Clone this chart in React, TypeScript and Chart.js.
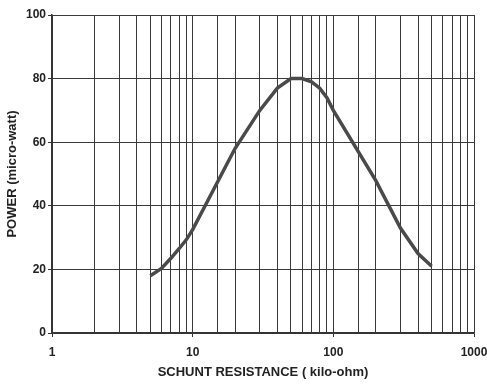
import React, { useEffect, useRef } from "react";
import { Chart, registerables } from "chart.js";

Chart.register(...registerables);

const resistanceKOhm = [5, 6, 7, 8, 9, 10, 20, 30, 40, 50, 60, 70, 80, 90, 100, 200, 300, 400, 500];
const powerMicroWatt = [18, 20.3, 23.5, 26.5, 29.3, 32.5, 58, 70, 77, 80, 80, 79, 77, 74, 70, 48, 33, 25, 21];
const majorXTicks = [1, 10, 100, 1000];
const yTickValues = [0, 20, 40, 60, 80, 100];

export default function App() {
  const canvasRef = useRef<HTMLCanvasElement | null>(null);

  useEffect(() => {
    const canvas = canvasRef.current;
    if (!canvas) return;
    const family = "'Liberation Sans', Arial, sans-serif";
    const tickFont = { family, size: 12, weight: "bold" as const };
    const titleFont = { family, size: 13, weight: "bold" as const };
    const chart = new Chart(canvas, {
      type: "line",
      data: {
        datasets: [
          {
            data: resistanceKOhm.map((x, i) => ({ x, y: powerMicroWatt[i] })),
            borderColor: "#4a4a4a",
            borderWidth: 3.5,
            pointRadius: 0,
            tension: 0,
            fill: false,
          },
        ],
      },
      options: {
        animation: false,
        responsive: false,
        maintainAspectRatio: false,
        layout: { padding: { top: 15, right: 0, bottom: 0, left: 0 } },
        plugins: { legend: { display: false }, tooltip: { enabled: false } },
        scales: {
          x: {
            type: "logarithmic",
            min: 1,
            max: 1000,
            afterFit: (s: any) => {
              s.height = 57;
              s.paddingLeft = 0;
              s.paddingRight = 13;
            },
            grid: {
              color: "#3a3a3a",
              lineWidth: 1,
              drawTicks: true,
              tickLength: 4,
              tickColor: (ctx: any) =>
                ctx.tick && majorXTicks.includes(ctx.tick.value) ? "#333" : "rgba(0,0,0,0)",
            },
            border: { color: "#333", width: 1.5 },
            ticks: {
              autoSkip: false,
              maxRotation: 0,
              padding: 8,
              color: "#222",
              font: tickFont,
              callback: (v: any) => (majorXTicks.includes(Number(v)) ? String(v) : ""),
            },
            title: {
              display: true,
              text: "SCHUNT RESISTANCE ( kilo-ohm)",
              color: "#222",
              font: titleFont,
              padding: { top: 4, bottom: 10 },
            },
          },
          y: {
            min: 0,
            max: 100,
            afterFit: (s: any) => {
              s.width = 52;
            },
            afterBuildTicks: (s: any) => {
              s.ticks = yTickValues.map((value) => ({ value }));
            },
            grid: { color: "#3a3a3a", lineWidth: 1, tickLength: 4, tickColor: "#333" },
            border: { color: "#333", width: 1.5 },
            ticks: { padding: 2, color: "#222", font: tickFont },
            title: {
              display: true,
              text: "POWER (micro-watt)",
              color: "#222",
              font: titleFont,
              padding: { top: 5, bottom: 0 },
            },
          },
        },
      },
    });
    return () => chart.destroy();
  }, []);

  return (
    <div style={{ position: "fixed", left: 0, top: 0, width: 487, height: 390, background: "#fff" }}>
      <canvas ref={canvasRef} width={487} height={390} style={{ width: 487, height: 390 }} />
    </div>
  );
}
